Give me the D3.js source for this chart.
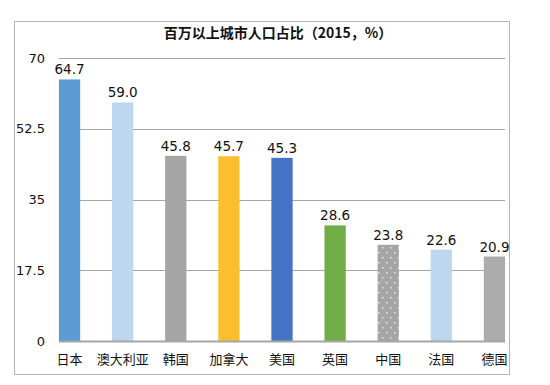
<!DOCTYPE html>
<html>
<head>
<meta charset="utf-8">
<script src="https://cdn.jsdelivr.net/npm/d3@7/dist/d3.min.js"></script>
<style>
  body { margin: 0; background: #fff; }
  text { font-family: "DejaVu Sans", "Noto Sans CJK SC", sans-serif; }
</style>
</head>
<body>
<svg id="chart" width="550" height="385"></svg>
<script>
// data
const countries = ["日本", "澳大利亚", "韩国", "加拿大", "美国", "英国", "中国", "法国", "德国"];
const shares = [64.7, 59.0, 45.8, 45.7, 45.3, 28.6, 23.8, 22.6, 20.9];
const barColors = ["#5B9BD5", "#BDD7EE", "#A5A5A5", "#FBBF2D", "#4472C4", "#70AD47", "url(#dots)", "#BDD7EE", "#ABABAB"];
const yTicks = [0, 17.5, 35, 52.5, 70];

const svg = d3.select("#chart");

// dotted fill for 中国
const pat = svg.append("defs").append("pattern")
  .attr("id", "dots")
  .attr("width", 8).attr("height", 10)
  .attr("patternUnits", "userSpaceOnUse");
pat.append("rect").attr("width", 8).attr("height", 10).attr("fill", "#A5A5A5");
pat.append("rect").attr("x", 2).attr("y", 2).attr("width", 1.5).attr("height", 1.5).attr("fill", "#e8e8e8");
pat.append("rect").attr("x", 6).attr("y", 7).attr("width", 1.5).attr("height", 1.5).attr("fill", "#e8e8e8");

// outer frame
svg.append("rect")
  .attr("x", 14.5).attr("y", 21.5)
  .attr("width", 495).attr("height", 353)
  .attr("fill", "none").attr("stroke", "#b4b4b4");

svg.append("text")
  .attr("x", 278).attr("y", 38)
  .attr("text-anchor", "middle")
  .attr("font-size", 14).attr("font-weight", "bold")
  .attr("fill", "#111")
  .style("font-family", "'Noto Sans CJK SC', sans-serif")
  .text("百万以上城市人口占比（2015，%）");

const x = d3.scaleBand().domain(countries).range([43, 521]).paddingInner(0.6).paddingOuter(0.3);
const y = d3.scaleLinear().domain([0, 70]).range([341, 58]);

// gridlines
svg.append("g").selectAll("line")
  .data(yTicks.slice(1))
  .join("line")
  .attr("x1", 59).attr("x2", 505)
  .attr("y1", d => Math.round(y(d)) + 0.5).attr("y2", d => Math.round(y(d)) + 0.5)
  .attr("stroke", "#a6a6a6").attr("stroke-width", 1);

// y tick labels
svg.append("g").selectAll("text")
  .data(yTicks)
  .join("text")
  .attr("x", 45).attr("y", d => y(d))
  .attr("dy", "0.35em")
  .attr("text-anchor", "end")
  .attr("font-size", 13).attr("fill", "#111")
  .text(d => d);

// bars
svg.append("g").selectAll("rect")
  .data(shares)
  .join("rect")
  .attr("x", (d, i) => x(countries[i]))
  .attr("width", x.bandwidth())
  .attr("y", d => y(d))
  .attr("height", d => y(0) - y(d))
  .attr("fill", (d, i) => barColors[i]);

// axis line
svg.append("line")
  .attr("x1", 59).attr("x2", 505)
  .attr("y1", 341.5).attr("y2", 341.5)
  .attr("stroke", "#a6a6a6").attr("stroke-width", 2);

// value labels
svg.append("g").selectAll("text")
  .data(shares)
  .join("text")
  .attr("x", (d, i) => x(countries[i]) + x.bandwidth() / 2)
  .attr("y", d => y(d) - 5)
  .attr("text-anchor", "middle")
  .attr("font-size", 13.5).attr("fill", "#111")
  .text(d => d.toFixed(1));

// category labels
svg.append("g").selectAll("text")
  .data(countries)
  .join("text")
  .attr("x", d => x(d) + x.bandwidth() / 2)
  .attr("y", 364)
  .attr("text-anchor", "middle")
  .attr("font-size", 13).attr("fill", "#111")
  .style("font-family", "'Noto Sans CJK SC', sans-serif")
  .text(d => d);
</script>
</body>
</html>
